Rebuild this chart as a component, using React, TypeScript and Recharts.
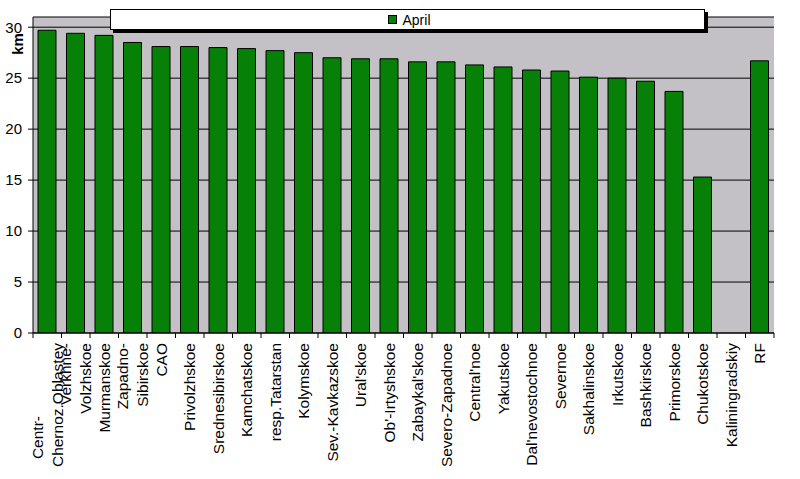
import React from "react";
import {
  BarChart,
  Bar,
  XAxis,
  YAxis,
  CartesianGrid,
  Legend,
} from "recharts";

const REGIONS = [
  "Centr-\nChernoz.Oblastey",
  "Verkhne-\nVolzhskoe",
  "Murmanskoe",
  "Zapadno-\nSibirskoe",
  "CAO",
  "Privolzhskoe",
  "Srednesibirskoe",
  "Kamchatskoe",
  "resp.Tatarstan",
  "Kolymskoe",
  "Sev.-Kavkazskoe",
  "Ural'skoe",
  "Ob'-Irtyshskoe",
  "Zabaykal'skoe",
  "Severo-Zapadnoe",
  "Central'noe",
  "Yakutskoe",
  "Dal'nevostochnoe",
  "Severnoe",
  "Sakhalinskoe",
  "Irkutskoe",
  "Bashkirskoe",
  "Primorskoe",
  "Chukotskoe",
  "Kaliningradskiy",
  "RF",
];

const APRIL = [
  29.7, 29.4, 29.2, 28.5, 28.1, 28.1, 28.0, 27.9, 27.7, 27.5, 27.0, 26.9, 26.9,
  26.6, 26.6, 26.3, 26.1, 25.8, 25.7, 25.1, 25.0, 24.7, 23.7, 15.3, null, 26.7,
];

const Y_TICKS = [0, 5, 10, 15, 20, 25, 30];
const SERIES_NAME = "April";
const UNIT = "km";

const data = REGIONS.map((name, i) => ({ name, april: APRIL[i] }));

const W = 800;
const H = 479;
const PLOT_LEFT = 33;
const PLOT_RIGHT = 26;
const BAND = (W - PLOT_LEFT - PLOT_RIGHT) / REGIONS.length;
const FONT = "'Liberation Sans', Arial, sans-serif";
const GREEN = "#068006";

// category labels: rotated, wrapped lines, tick marks sit on the band edges
function XTick(props: any) {
  const { x, y, payload, index } = props;
  const lines: string[] = String(payload.value).split("\n");
  const lh = 20;
  const first = -((lines.length - 1) * lh) / 2;
  const left = x - BAND / 2;
  const isLast = index === REGIONS.length - 1;
  return (
    <g>
      <line x1={left} x2={left} y1={y - 10} y2={y - 5} stroke="#000" />
      {isLast && <line x1={x + BAND / 2} x2={x + BAND / 2} y1={y - 10} y2={y - 5} stroke="#000" />}
      <text
        transform={`translate(${x},${y}) rotate(-90)`}
        textAnchor="end"
        fontSize={15.5}
        fontFamily={FONT}
        fill="#000"
      >
        {lines.map((ln, i) => (
          <tspan
            key={i}
            x={index === 0 && i === 0 && lines.length > 1 ? -73 : 0}
            y={first + i * lh}
            dy="0.36em"
          >
            {ln}
          </tspan>
        ))}
      </text>
    </g>
  );
}

function LegendBox() {
  return (
    <div
      style={{
        width: 595,
        height: 21,
        boxSizing: "border-box",
        background: "#fff",
        border: "1px solid #000",
        boxShadow: "3px 3px 0 #000",
        display: "flex",
        alignItems: "center",
        justifyContent: "center",
        paddingLeft: 4,
        fontFamily: FONT,
        fontSize: 14,
        color: "#000",
      }}
    >
      <span
        style={{
          width: 7,
          height: 7,
          background: GREEN,
          border: "1px solid #000",
          marginRight: 5,
          display: "inline-block",
        }}
      />
      <span>{SERIES_NAME}</span>
    </div>
  );
}

export default function App() {
  return (
    <div style={{ width: W, height: H, background: "#fff", position: "relative" }}>
      <style>{"body{margin:0}"}</style>
      <BarChart
        width={W}
        height={H}
        data={data}
        margin={{ top: 17, right: PLOT_RIGHT, bottom: 0, left: 0 }}
        barSize={18}
      >
        <CartesianGrid
          vertical={false}
          stroke="#000"
          fill="#c3c1c5"
          fillOpacity={1}
        />
        <XAxis
          dataKey="name"
          interval={0}
          height={146}
          axisLine={{ stroke: "#000" }}
          tickLine={false}
          tickSize={5}
          tickMargin={5}
          tick={<XTick />}
        />
        <XAxis
          xAxisId="top"
          orientation="top"
          dataKey="name"
          height={0}
          tick={false}
          tickLine={false}
          axisLine={{ stroke: "#808080" }}
        />
        <YAxis
          width={PLOT_LEFT}
          domain={[0, 31]}
          ticks={Y_TICKS}
          allowDataOverflow
          axisLine={{ stroke: "#000" }}
          tickLine={{ stroke: "#000" }}
          tickSize={5}
          tickMargin={6}
          tick={{ fill: "#000", fontSize: 15, fontFamily: FONT }}
          label={() => (
            <text
              transform="translate(23,44) rotate(-90)"
              textAnchor="middle"
              fontSize={15}
              fontWeight="bold"
              fontFamily={FONT}
              fill="#000"
            >
              {UNIT}
            </text>
          )}
        />
        <YAxis
          yAxisId="right"
          orientation="right"
          width={0}
          tick={false}
          tickLine={false}
          axisLine={{ stroke: "#808080" }}
        />
        <Legend
          layout="horizontal"
          align="center"
          verticalAlign="middle"
          content={() => <LegendBox />}
          wrapperStyle={{ position: "absolute", top: 9, left: 110, width: 595, height: 21 }}
        />
        <Bar
          dataKey="april"
          name={SERIES_NAME}
          fill={GREEN}
          stroke="#000"
          strokeWidth={1}
          isAnimationActive={false}
        />
      </BarChart>
    </div>
  );
}
